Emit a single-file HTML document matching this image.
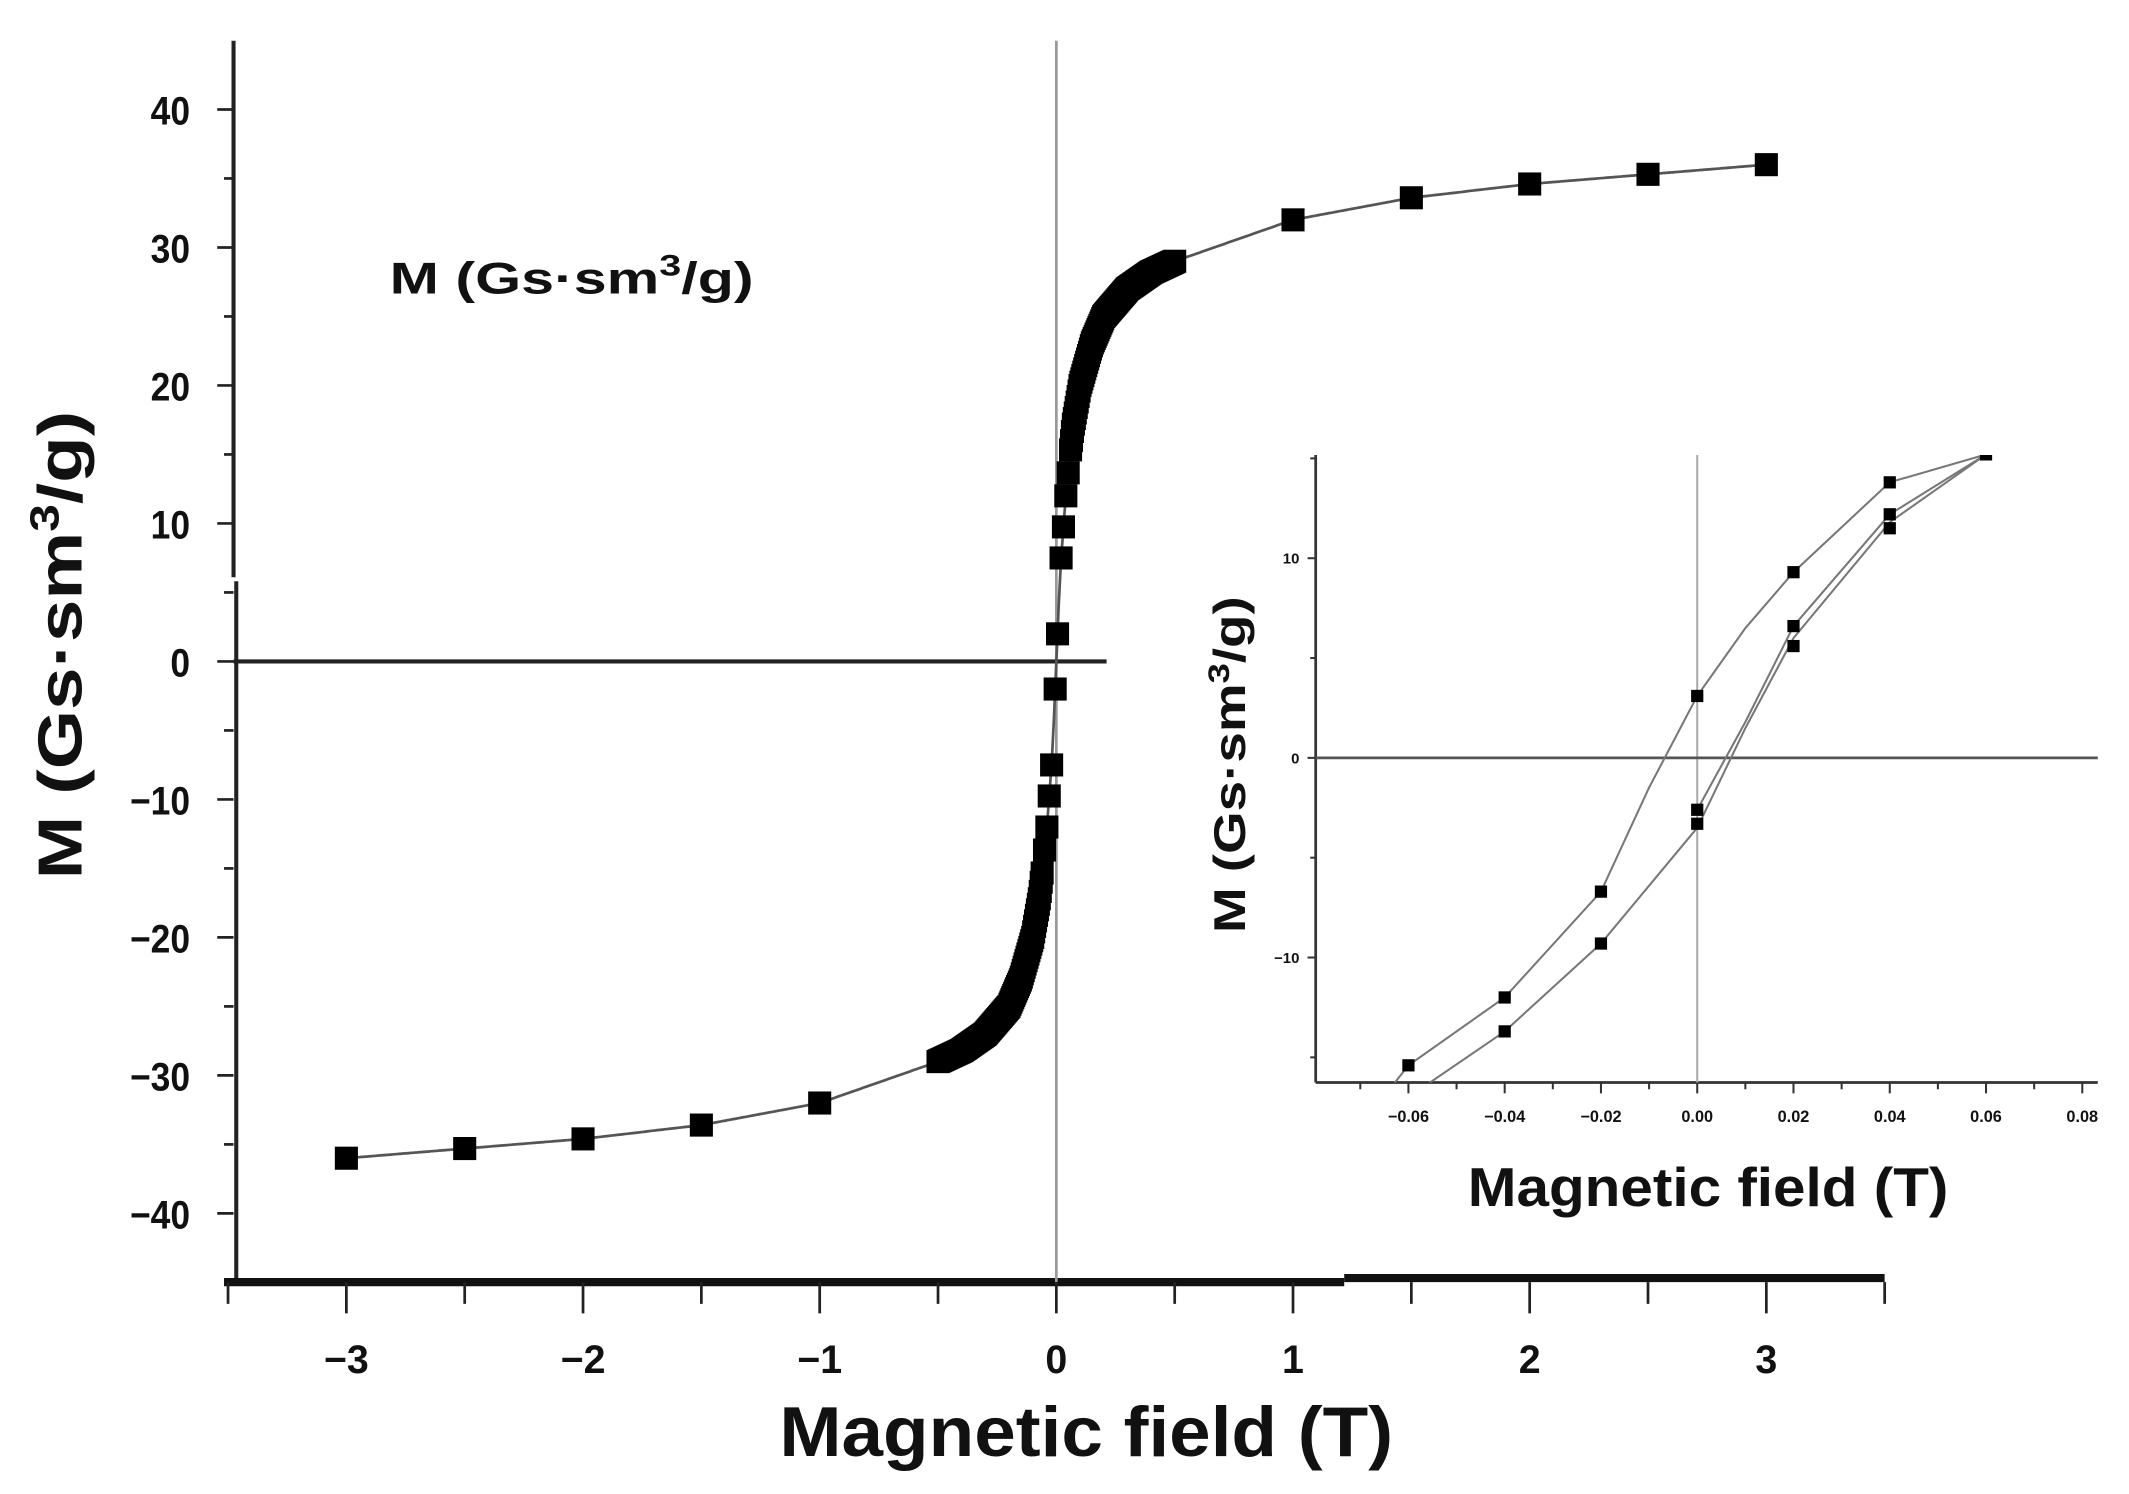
<!DOCTYPE html>
<html><head><meta charset="utf-8"><style>html,body{margin:0;padding:0;background:#fff}svg{display:block}text{font-family:"Liberation Sans",sans-serif;font-weight:bold;fill:#111}</style></head>
<body>
<svg id="s" xmlns="http://www.w3.org/2000/svg" width="2129" height="1494" viewBox="0 0 1568 1100" preserveAspectRatio="none">
<rect width="1568" height="1100" fill="#fff"/>
<defs><clipPath id="ci"><rect x="969" y="335" width="576" height="462"/></clipPath></defs>
<line x1="172" y1="30" x2="172" y2="425" stroke="#222" stroke-width="3"/>
<line x1="174" y1="428" x2="174" y2="945" stroke="#222" stroke-width="3"/>
<line x1="165" y1="944" x2="990" y2="944" stroke="#111" stroke-width="6"/>
<line x1="990" y1="941" x2="1388" y2="941" stroke="#111" stroke-width="6"/>
<line x1="778" y1="30" x2="778" y2="944" stroke="#999" stroke-width="2"/>
<line x1="172" y1="487" x2="815" y2="487" stroke="#222" stroke-width="3"/>
<g id="mt"></g>
<g id="md"></g>
<text x="287" y="216" font-size="33" textLength="268" lengthAdjust="spacingAndGlyphs" style="font-weight:600">M (Gs·sm<tspan dy="-13" font-size="22">3</tspan><tspan dy="13">/g)</tspan></text>
<text transform="translate(60,475) rotate(-90)" text-anchor="middle" font-size="46" textLength="345" lengthAdjust="spacingAndGlyphs">M (Gs·sm<tspan dy="-17" font-size="30">3</tspan><tspan dy="17">/g)</tspan></text>
<text x="800" y="1072" text-anchor="middle" font-size="52" textLength="452" lengthAdjust="spacingAndGlyphs">Magnetic field (T)</text>
<line x1="969" y1="335" x2="969" y2="797" stroke="#333" stroke-width="2"/>
<line x1="969" y1="797" x2="1545" y2="797" stroke="#333" stroke-width="2"/>
<line x1="1250" y1="335" x2="1250" y2="797" stroke="#aaa" stroke-width="1.5"/>
<line x1="969" y1="558" x2="1545" y2="558" stroke="#555" stroke-width="2"/>
<g id="it"></g>
<g id="id" clip-path="url(#ci)"></g>
<text transform="translate(917,563) rotate(-90)" text-anchor="middle" font-size="33" textLength="248" lengthAdjust="spacingAndGlyphs">M (Gs·sm<tspan dy="-12" font-size="22">3</tspan><tspan dy="12">/g)</tspan></text>
<text x="1258" y="888" text-anchor="middle" font-size="40" textLength="354" lengthAdjust="spacingAndGlyphs">Magnetic field (T)</text>
</svg>
<script>
var NS="http://www.w3.org/2000/svg";
function el(p,t,a,txt){var e=document.createElementNS(NS,t);for(var k in a)e.setAttribute(k,a[k]);if(txt!=null)e.textContent=txt;document.getElementById(p).appendChild(e);return e;}
function X(h){return 778+h*174.3}function Y(m){return 487-m*10.16}
for(var v=-40;v<=40;v+=5){var y=Y(v);var maj=v%10==0;
 el("mt","line",{x1:maj?160:165,y1:y,x2:172,y2:y,stroke:"#222","stroke-width":2});
 if(maj)el("mt","text",{x:140,y:y+11,"text-anchor":"end","font-size":29,transform:"translate(140,0) scale(0.9,1) translate(-140,0)"},(v<0?"\u2212":"")+Math.abs(v));}
for(var h=-3.5;h<=3.5;h+=0.5){var x=X(h);var maj=Math.abs(h%1)<1e-6;
 el("mt","line",{x1:x,y1:944,x2:x,y2:maj?967:960,stroke:"#222","stroke-width":2});
 if(maj)el("mt","text",{x:x,y:1011,"text-anchor":"middle","font-size":29},(h<0?"\u2212":"")+Math.abs(h));}
var T=[[0,0],[0.01,4],[0.02,7.5],[0.04,12],[0.07,17],[0.1,20],[0.15,23],[0.2,25],[0.3,27],[0.4,28.2],[0.5,29],[1,32],[1.5,33.6],[2,34.6],[2.5,35.3],[3,36]];
function M(h){var s=h<0?-1:1,a=Math.abs(h);for(var i=1;i<T.length;i++){if(a<=T[i][0]+1e-9){var t=(a-T[i-1][0])/(T[i][0]-T[i-1][0]);return s*(T[i-1][1]+t*(T[i][1]-T[i-1][1]));}}return s*36;}
var pts=[];for(var h=-3;h<=3.0001;h+=0.005)pts.push(X(h).toFixed(1)+","+Y(M(h)).toFixed(1));
el("md","polyline",{points:pts.join(" "),fill:"none",stroke:"#555","stroke-width":2});
var hs=[-3,-2.5,-2,-1.5,-1,1,1.5,2,2.5,3,-0.005,0.005,-0.02,0.02,-0.03,0.03,-0.04,0.04,-0.05,0.05];
for(var h=0.06;h<=0.5001;h+=0.004){hs.push(h);hs.push(-h);}
hs.forEach(function(h){var s=17;el("md","rect",{x:X(h)-s/2,y:Y(M(h))-s/2,width:s,height:s,fill:"#000"});});
function Xi(h){return 1250+h*3545}function Yi(m){return 558-m*14.7}
for(var v=-15;v<=15;v+=5){var y=Yi(v);if(y<335||y>797)continue;var maj=v%10==0;
 el("it","line",{x1:maj?963:965,y1:y,x2:969,y2:y,stroke:"#333","stroke-width":1.5});
 if(maj)el("it","text",{x:957,y:y+4,"text-anchor":"end","font-size":11},(v<0?"\u2212":"")+Math.abs(v));}
for(var i=-7;i<=8;i++){var h=i*0.01;var x=Xi(h);var maj=i%2==0;
 el("it","line",{x1:x,y1:797,x2:x,y2:maj?805:802,stroke:"#333","stroke-width":1.5});
 if(maj&&i>=-6)el("it","text",{x:x,y:826,"text-anchor":"middle","font-size":12},(h<0?"\u2212":"")+Math.abs(h).toFixed(2));}
var up=[[-0.075,-20],[-0.06,-15.4],[-0.04,-12],[-0.02,-6.7],[-0.01,-1.5],[0,3.1],[0.01,6.5],[0.02,9.3],[0.04,13.8],[0.06,15.2],[0.07,17]];
var lo=[[-0.07,-20],[-0.06,-17],[-0.04,-13.7],[-0.02,-9.3],[0,-3.5],[0.01,1.5],[0.02,6],[0.04,11.8],[0.06,15.2]];
var lo2=[[0,-2.6],[0.01,1.8],[0.02,6.6],[0.04,12.2],[0.06,15.2]];
[up,lo,lo2].forEach(function(a){el("id","polyline",{points:a.map(function(p){return Xi(p[0]).toFixed(1)+","+Yi(p[1]).toFixed(1)}).join(" "),fill:"none",stroke:"#777","stroke-width":1.5});});
[[-0.06,-15.4],[-0.04,-12],[-0.02,-6.7],[0,3.1],[0.02,9.3],[0.04,13.8],[0.06,15.2],[-0.04,-13.7],[-0.02,-9.3],[0,-2.6],[0,-3.3],[0.02,6.6],[0.02,5.6],[0.04,12.2],[0.04,11.5]].forEach(function(p){var s=9;el("id","rect",{x:Xi(p[0])-s/2,y:Yi(p[1])-s/2,width:s,height:s,fill:"#000"});});
</script>
</body></html>
